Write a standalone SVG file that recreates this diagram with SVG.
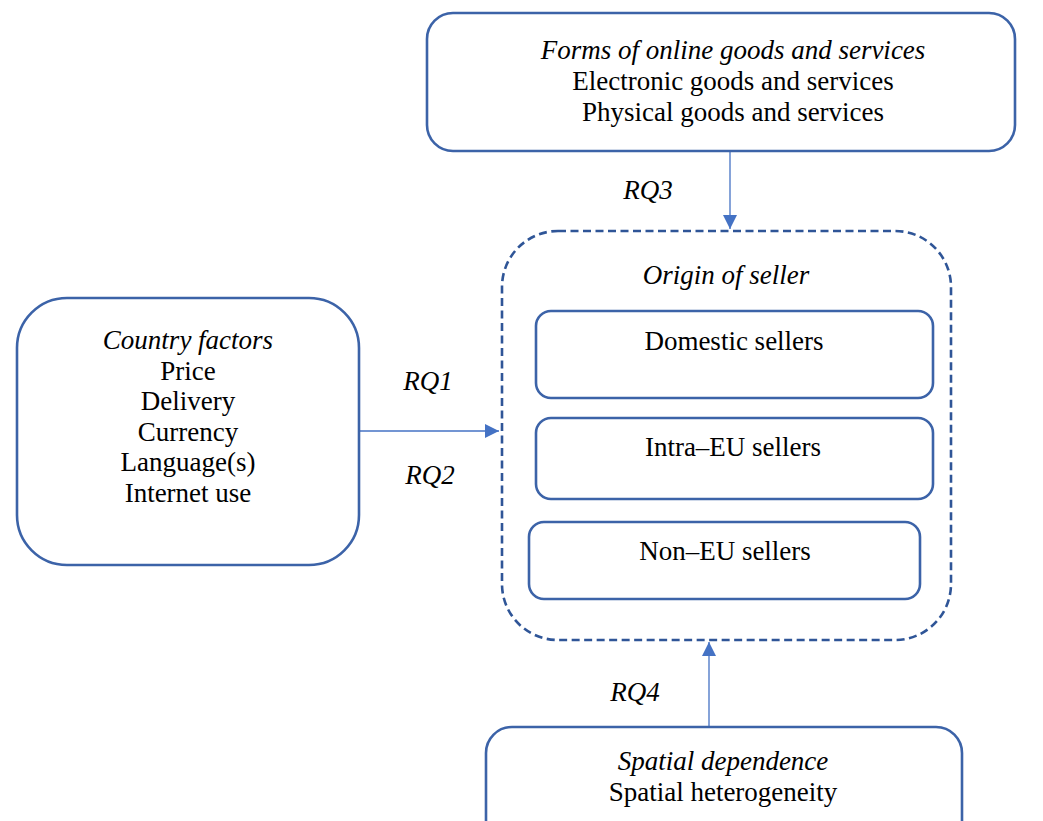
<svg xmlns="http://www.w3.org/2000/svg" width="1043" height="821" viewBox="0 0 1043 821">
<defs>
<style>
.box{fill:#ffffff;stroke:#3c63a8;stroke-width:2.6}
.dash{fill:none;stroke:#2f5597;stroke-width:2.6;stroke-dasharray:8 4.5}
.conn{stroke:#4472c4;stroke-width:1.3;fill:none}
text{font-family:"Liberation Serif","Times New Roman",serif;font-size:27px;fill:#000;text-anchor:middle}
.it{font-style:italic}
</style>
<marker id="arr" viewBox="0 0 10 10" refX="10" refY="5" markerWidth="14" markerHeight="14" markerUnits="userSpaceOnUse" orient="auto">
<path d="M0,0 L10,5 L0,10 Z" fill="#4472c4"/>
</marker>
</defs>
<rect width="1043" height="821" fill="#ffffff"/>
<g id="connectors">
<line class="conn" x1="730" y1="151" x2="730" y2="229" marker-end="url(#arr)"/>
<line class="conn" x1="357" y1="431" x2="499" y2="431" marker-end="url(#arr)"/>
<line class="conn" x1="709" y1="727" x2="709" y2="642" marker-end="url(#arr)"/>
<text class="it" x="648" y="199">RQ3</text>
<text class="it" x="428" y="390">RQ1</text>
<text class="it" x="430" y="484">RQ2</text>
<text class="it" x="635" y="701">RQ4</text>
</g>
<g id="forms">
<rect class="box" x="427" y="13" width="588" height="138" rx="26"/>
<text class="it" x="733" y="59">Forms of online goods and services</text>
<text x="733" y="90">Electronic goods and services</text>
<text x="733" y="121">Physical goods and services</text>
</g>
<g id="origin">
<rect class="dash" x="502" y="231" width="449" height="409" rx="56"/>
<text class="it" x="726" y="284">Origin of seller</text>
</g>
<g id="domestic">
<rect class="box" x="536" y="311" width="397" height="87" rx="15"/>
<text x="734" y="350">Domestic sellers</text>
</g>
<g id="intra">
<rect class="box" x="536" y="418" width="397" height="81" rx="15"/>
<text x="733" y="456">Intra–EU sellers</text>
</g>
<g id="nonEU">
<rect class="box" x="529" y="522" width="391" height="77" rx="15"/>
<text x="725" y="560">Non–EU sellers</text>
</g>
<g id="country">
<rect class="box" x="17" y="298" width="342" height="267" rx="50"/>
<text class="it" x="188" y="349">Country factors</text>
<text x="188" y="380">Price</text>
<text x="188" y="410">Delivery</text>
<text x="188" y="441">Currency</text>
<text x="188" y="471">Language(s)</text>
<text x="188" y="502">Internet use</text>
</g>
<g id="spatial">
<rect class="box" x="486" y="727" width="476" height="120" rx="26"/>
<text class="it" x="723" y="770">Spatial dependence</text>
<text x="723" y="801">Spatial heterogeneity</text>
</g>
</svg>
